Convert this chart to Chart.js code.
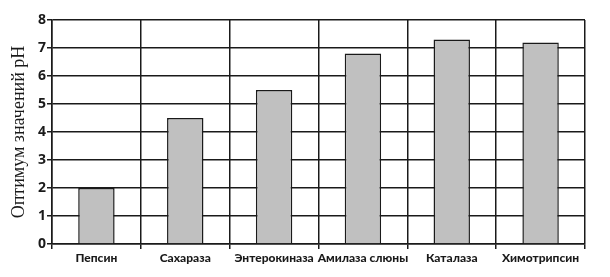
<!DOCTYPE html>
<html><head><meta charset="utf-8">
<script src="https://cdn.jsdelivr.net/npm/chart.js@4.4.1/dist/chart.umd.min.js"></script>
<style>html,body{margin:0;padding:0;background:#fff;}canvas{display:block;}</style>
</head><body>
<canvas id="c" width="610" height="277"></canvas>
<script>
const categories = ["Пепсин", "Сахараза", "Энтерокиназа", "Амилаза слюны", "Каталаза", "Химотрипсин"];
const phValues = [2, 4.5, 5.5, 6.8, 7.3, 7.2];
const yAxisTitle = "Оптимум значений pH";

new Chart(document.getElementById('c'), {
  type: 'bar',
  data: {
    labels: categories,
    datasets: [{
      data: phValues,
      backgroundColor: '#c0c0c0',
      borderColor: '#1a1a1a',
      borderWidth: 1.5,
      categoryPercentage: 1,
      barPercentage: 0.41
    }]
  },
  options: {
    responsive: false,
    animation: false,
    layout: { padding: { left: 0, right: 25, top: 20, bottom: 0 } },
    plugins: { legend: { display: false }, tooltip: { enabled: false } },
    scales: {
      x: {
        afterFit: s => { s.height = 33; },
        grid: { offset: true, color: '#1a1a1a', lineWidth: 1.5, tickLength: 5, drawOnChartArea: true },
        border: { color: '#1a1a1a', width: 1.5 },
        ticks: { color: '#1a1a1a', font: { family: 'Lato', weight: '900', size: 12 }, padding: 2, maxRotation: 0, autoSkip: false }
      },
      y: {
        min: 0, max: 8,
        afterFit: s => { s.width = 52; },
        grid: { color: '#1a1a1a', lineWidth: 1.5, tickLength: 5 },
        border: { color: '#1a1a1a', width: 1.5 },
        ticks: { stepSize: 1, color: '#1a1a1a', font: { family: 'Open Sans', weight: 'bold', size: 14 }, padding: 1 },
        title: { display: true, text: yAxisTitle, color: '#1a1a1a', font: { family: 'Liberation Serif', size: 18 }, padding: { top: 8, bottom: 0 } }
      }
    }
  }
});
</script>
</body></html>
